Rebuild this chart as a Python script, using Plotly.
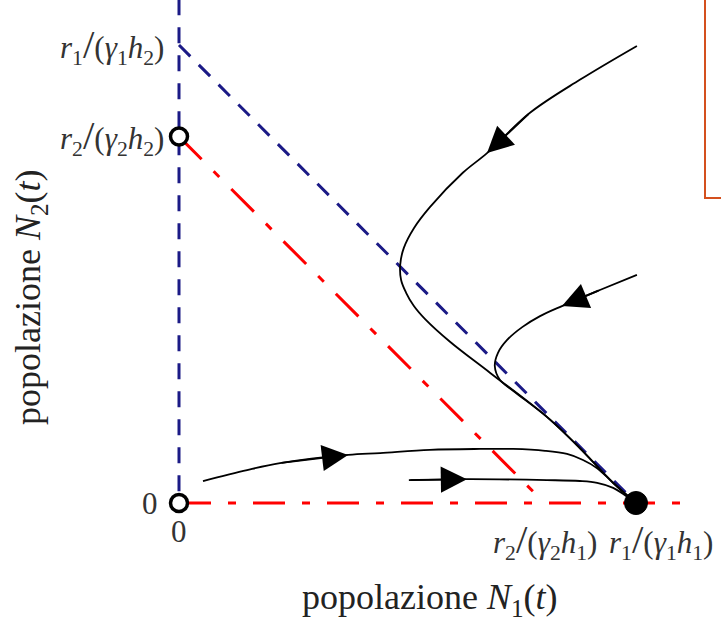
import plotly.graph_objects as go

# ---------------- data (units: r1/(γ1h1) = 1 on N1 axis, r1/(γ1h2) = 1 on N2 axis)
K1_N1 = 1.0    # r1/(γ1 h1)
K2_N1 = 0.8    # r2/(γ2 h1)
K1_N2 = 1.0    # r1/(γ1 h2)
K2_N2 = 0.8    # r2/(γ2 h2)
N2_TOP = 1.10  # end of the N2 = 0 isocline (vertical)
N1_END = 1.103 # end of the N1 = 0 isocline (horizontal)

SLASH = "<span style='font-size:41px'>/</span>"
x_tick_vals = [0.0, K2_N1, K1_N1]
x_tick_text = ["0",
               "<i>r</i><sub>2</sub>" + SLASH + "(<i>γ</i><sub>2</sub><i>h</i><sub>1</sub>)",
               "<i>r</i><sub>1</sub>" + SLASH + "(<i>γ</i><sub>1</sub><i>h</i><sub>1</sub>)"]
y_tick_vals = [0.0, K2_N2, K1_N2]
y_tick_text = ["0",
               "<i>r</i><sub>2</sub>" + SLASH + "(<i>γ</i><sub>2</sub><i>h</i><sub>2</sub>)",
               "<i>r</i><sub>1</sub>" + SLASH + "(<i>γ</i><sub>1</sub><i>h</i><sub>2</sub>)"]

traj1_x = [1.002, 0.877, 0.768, 0.674, 0.621, 0.549, 0.514, 0.492, 0.484, 0.486, 0.497, 0.514, 0.538, 0.593, 0.681, 0.805, 0.877, 0.950, 1.0]
traj1_y = [0.998, 0.924, 0.852, 0.764, 0.721, 0.646, 0.600, 0.557, 0.520, 0.487, 0.459, 0.430, 0.402, 0.352, 0.284, 0.188, 0.120, 0.044, 0.0]

traj2_x = [1.002, 0.921, 0.838, 0.790, 0.751, 0.718, 0.698, 0.691, 0.702, 0.731, 0.805, 0.877, 0.950, 1.0]
traj2_y = [0.498, 0.465, 0.430, 0.408, 0.384, 0.356, 0.328, 0.299, 0.269, 0.245, 0.188, 0.120, 0.044, 0.0]

traj3_x = [0.0525, 0.149, 0.221, 0.370, 0.440, 0.549, 0.659, 0.731, 0.801, 0.849, 0.884, 0.915, 0.950, 1.0]
traj3_y = [0.048, 0.072, 0.087, 0.105, 0.109, 0.116, 0.118, 0.118, 0.114, 0.107, 0.094, 0.076, 0.044, 0.0]

traj4_x = [0.503, 0.630, 0.805, 0.877, 0.915, 0.950, 0.976, 1.0]
traj4_y = [0.050, 0.052, 0.050, 0.048, 0.044, 0.033, 0.017, 0.0]

trajectories = [(traj1_x, traj1_y), (traj2_x, traj2_y), (traj3_x, traj3_y), (traj4_x, traj4_y)]
arrow_index = [3, 2, 3, 1]   # point of each trajectory carrying the arrow head

open_eq_x = [0.0, 0.0]
open_eq_y = [0.0, K2_N2]
stable_eq_x = [K1_N1]
stable_eq_y = [0.0]

# ---------------- styling
BLUE = "#1b1a86"
RED = "#ff0000"
SERIF = "Liberation Serif, Times New Roman, serif"
BLUE_DASH = "16px,12px"
RED_DASH = "32px,17px,8px,17px"

fig = go.Figure()

fig.add_trace(go.Scatter(x=[0, 0], y=[N2_TOP, 0], mode="lines",
                         line=dict(color=BLUE, width=3, dash=BLUE_DASH), hoverinfo="skip"))
fig.add_trace(go.Scatter(x=[0, K1_N1], y=[K1_N2, 0], mode="lines",
                         line=dict(color=BLUE, width=3, dash=BLUE_DASH), hoverinfo="skip"))
fig.add_trace(go.Scatter(x=[0, K2_N1], y=[K2_N2, 0], mode="lines",
                         line=dict(color=RED, width=3, dash=RED_DASH), hoverinfo="skip"))
fig.add_trace(go.Scatter(x=[0, N1_END], y=[0, 0], mode="lines",
                         line=dict(color=RED, width=3, dash=RED_DASH), hoverinfo="skip"))

annotations = []
for (tx, ty), ai in zip(trajectories, arrow_index):
    fig.add_trace(go.Scatter(
        x=tx, y=ty, mode="lines",
        line=dict(color="black", width=1.8, shape="spline", smoothing=1.0),
        hoverinfo="skip"))
    # stealth arrow head at the trajectory point, oriented along the path
    annotations.append(dict(x=tx[ai], y=ty[ai], ax=tx[ai - 1], ay=ty[ai - 1],
                            xref="x", yref="y", axref="x", ayref="y",
                            text="", showarrow=True, arrowhead=2, arrowsize=2.9,
                            arrowwidth=1.8, arrowcolor="black", standoff=0))

fig.add_trace(go.Scatter(x=open_eq_x, y=open_eq_y, mode="markers",
                         marker=dict(symbol="circle", size=17, color="white",
                                     line=dict(color="black", width=3.5)),
                         cliponaxis=False, hoverinfo="skip"))
fig.add_trace(go.Scatter(x=stable_eq_x, y=stable_eq_y, mode="markers",
                         marker=dict(symbol="circle", size=23, color="black",
                                     line=dict(color="black", width=1)),
                         cliponaxis=False, hoverinfo="skip"))

# y tick labels
for v, t in zip(y_tick_vals, y_tick_text):
    annotations.append(dict(x=0, y=v, xref="x", yref="y", text=t, showarrow=False,
                            xanchor="right", yanchor="middle",
                            xshift=-(19 if v == 0 else 13),
                            font=dict(family=SERIF, size=31, color="#333333")))
# x tick labels
x_shifts = [0, 0, 25]
for v, t, s in zip(x_tick_vals, x_tick_text, x_shifts):
    annotations.append(dict(x=v, y=0, xref="x", yref="y", text=t, showarrow=False,
                            xanchor="center", yanchor="middle",
                            xshift=s, yshift=-(28 if v == 0 else 37),
                            font=dict(family=SERIF, size=31, color="#333333")))
# axis titles
annotations.append(dict(x=430 / 721, y=1 - 599 / 623, xref="paper", yref="paper",
                        text="popolazione <i>N</i><sub>1</sub>(<i>t</i>)", showarrow=False,
                        xanchor="center", yanchor="middle",
                        font=dict(family=SERIF, size=36, color="#222222")))
annotations.append(dict(x=30 / 721, y=1 - 297 / 623, xref="paper", yref="paper",
                        text="popolazione <i>N</i><sub>2</sub>(<i>t</i>)", showarrow=False,
                        textangle=-90, xanchor="center", yanchor="middle",
                        font=dict(family=SERIF, size=36, color="#222222")))

fig.update_layout(
    width=721, height=623,
    margin=dict(l=0, r=0, t=0, b=0),
    paper_bgcolor="white", plot_bgcolor="white",
    showlegend=False,
    xaxis=dict(range=[-179 / 457, 542 / 457], visible=False, fixedrange=True),
    yaxis=dict(range=[-120 / 458, 503 / 458], visible=False, fixedrange=True),
    annotations=annotations,
    shapes=[dict(type="rect", xref="paper", yref="paper",
                 x0=705 / 721, x1=1.05, y0=1 - 198 / 623, y1=1.05,
                 line=dict(color="#d4501e", width=2), fillcolor="rgba(0,0,0,0)")],
)

fig.write_html("out.html")
